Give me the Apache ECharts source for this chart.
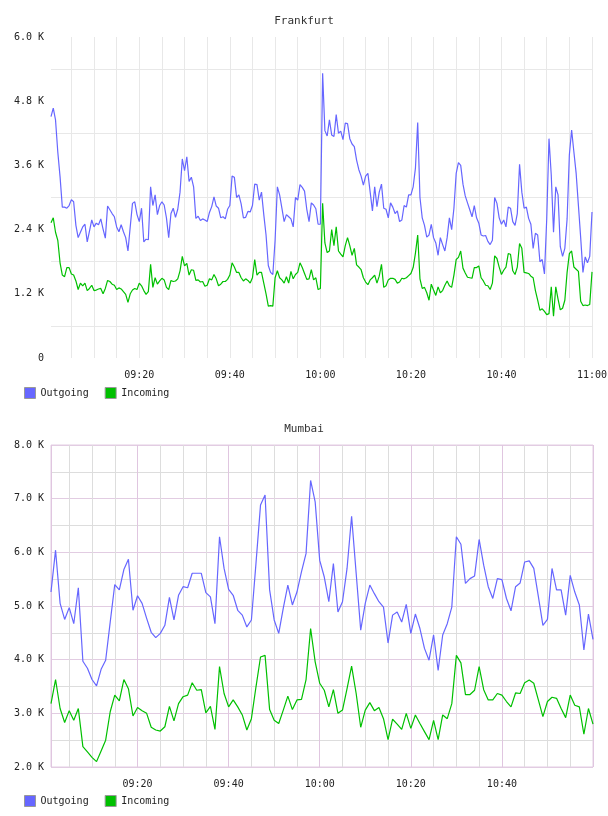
<!DOCTYPE html>
<html>
<head>
<meta charset="utf-8">
<script src="https://cdn.jsdelivr.net/npm/echarts@6/dist/echarts.min.js"></script>
<style>
  html, body { margin: 0; padding: 0; background: #fff; }
  #chart { width: 608px; height: 816px; }
</style>
</head>
<body>
<div id="chart"></div>
<script>
// Frankfurt: one sample every 30 s, 09:00:30 .. 11:00:00 (values in K)
const fraStart = [9, 0, 30];
const fraStepSec = 30;
const fraOutgoing = [
  4.51, 4.67, 4.45, 3.85, 3.39, 2.82, 2.82, 2.80, 2.85, 2.96,
  2.92, 2.48, 2.25, 2.35, 2.45, 2.50, 2.17, 2.37, 2.58, 2.45,
  2.52, 2.49, 2.60, 2.41, 2.24, 2.84, 2.77, 2.70, 2.64, 2.45,
  2.36, 2.49, 2.36, 2.25, 2.00, 2.45, 2.89, 2.92, 2.68, 2.55,
  2.80, 2.17, 2.22, 2.21, 3.20, 2.85, 3.05, 2.68, 2.85, 2.92,
  2.86, 2.62, 2.25, 2.70, 2.80, 2.63, 2.78, 3.10, 3.72, 3.50,
  3.76, 3.30, 3.38, 3.20, 2.61, 2.65, 2.57, 2.60, 2.58, 2.55,
  2.72, 2.83, 3.01, 2.84, 2.80, 2.62, 2.64, 2.60, 2.78, 2.85,
  3.40, 3.38, 3.00, 3.05, 2.88, 2.62, 2.63, 2.74, 2.73, 2.85,
  3.25, 3.24, 2.95, 3.10, 2.68, 2.30, 1.73, 1.60, 1.56, 2.20,
  3.20, 3.05, 2.80, 2.55, 2.68, 2.64, 2.60, 2.45, 3.00, 2.95,
  3.24, 3.19, 3.12, 2.78, 2.55, 2.90, 2.86, 2.79, 2.50, 2.50,
  5.32, 4.25, 4.15, 4.45, 4.17, 4.14, 4.55, 4.20, 4.24, 4.08,
  4.39, 4.38, 4.10, 4.00, 3.95, 3.70, 3.52, 3.40, 3.23, 3.40,
  3.45, 3.10, 2.75, 3.20, 2.83, 3.10, 3.25, 2.80, 2.78, 2.62,
  2.90, 2.82, 2.70, 2.75, 2.55, 2.58, 2.85, 2.82, 3.05, 3.05,
  3.20, 3.55, 4.40, 3.00, 2.62, 2.48, 2.26, 2.30, 2.50, 2.25,
  2.15, 1.92, 2.25, 2.12, 2.00, 2.25, 2.62, 2.40, 2.80, 3.45,
  3.65, 3.60, 3.25, 3.03, 2.90, 2.77, 2.64, 2.85, 2.62, 2.52,
  2.30, 2.28, 2.29, 2.18, 2.12, 2.20, 3.00, 2.89, 2.62, 2.50,
  2.58, 2.45, 2.82, 2.80, 2.55, 2.48, 2.70, 3.62, 3.10, 2.80,
  2.82, 2.61, 2.50, 2.05, 2.33, 2.30, 1.80, 1.84, 1.57, 2.60,
  4.10, 3.42, 2.35, 3.20, 3.05, 2.08, 1.90, 2.05, 2.60, 3.80,
  4.26, 3.85, 3.45, 2.85, 2.25, 1.60, 1.89, 1.78, 1.90, 2.73
];
const fraIncoming = [
  2.53, 2.62, 2.35, 2.20, 1.78, 1.55, 1.52, 1.69, 1.69, 1.57,
  1.55, 1.44, 1.28, 1.40, 1.35, 1.40, 1.26, 1.30, 1.36, 1.26,
  1.27, 1.29, 1.30, 1.20, 1.30, 1.45, 1.43, 1.38, 1.36, 1.28,
  1.31, 1.29, 1.24, 1.19, 1.04, 1.20, 1.27, 1.30, 1.28, 1.40,
  1.35, 1.26, 1.19, 1.24, 1.75, 1.32, 1.50, 1.38, 1.44, 1.49,
  1.46, 1.32, 1.28, 1.45, 1.43, 1.44, 1.48, 1.63, 1.90, 1.72,
  1.77, 1.55, 1.65, 1.64, 1.45, 1.46, 1.42, 1.43, 1.34, 1.36,
  1.48, 1.46, 1.56, 1.48, 1.35, 1.38, 1.43, 1.43, 1.47, 1.55,
  1.78, 1.70, 1.60, 1.60, 1.50, 1.44, 1.48, 1.45, 1.40, 1.50,
  1.84, 1.55, 1.60, 1.60, 1.40, 1.20, 0.97, 0.98, 0.97, 1.50,
  1.63, 1.50, 1.46, 1.40, 1.52, 1.40, 1.62, 1.48, 1.56, 1.60,
  1.78, 1.69, 1.58, 1.47, 1.48, 1.65, 1.46, 1.50, 1.28, 1.30,
  2.89, 2.15, 1.97, 2.00, 2.40, 2.10, 2.45, 2.00, 1.94, 1.89,
  2.10, 2.25, 2.10, 1.92, 2.05, 1.74, 1.70, 1.65, 1.50, 1.42,
  1.37, 1.46, 1.50, 1.55, 1.40, 1.53, 1.75, 1.32, 1.35, 1.46,
  1.49, 1.49, 1.47, 1.40, 1.42, 1.49, 1.48, 1.50, 1.54, 1.58,
  1.69, 1.96, 2.30, 1.48, 1.30, 1.32, 1.22, 1.08, 1.38, 1.27,
  1.17, 1.33, 1.22, 1.26, 1.36, 1.44, 1.35, 1.32, 1.55, 1.84,
  1.88, 2.00, 1.68, 1.59, 1.51, 1.50, 1.49, 1.69, 1.69, 1.72,
  1.50, 1.44, 1.36, 1.35, 1.28, 1.40, 1.91, 1.86, 1.70, 1.56,
  1.64, 1.70, 1.95, 1.94, 1.63, 1.56, 1.70, 2.14, 2.05, 1.60,
  1.59, 1.58, 1.53, 1.50, 1.26, 1.08, 0.89, 0.92, 0.87, 0.81,
  0.83, 1.33, 0.78, 1.33, 1.10, 0.90, 0.93, 1.08, 1.60, 1.95,
  2.00, 1.70, 1.66, 1.62, 1.06, 0.98, 0.99, 0.98, 1.00, 1.61
];

// Mumbai: one sample per minute, 09:01 .. 11:00 (values in K)
const mumStart = [9, 1, 0];
const mumStepSec = 60;
const mumOutgoing = [
  5.26, 6.04, 5.05, 4.75, 4.97, 4.67, 5.34, 3.97, 3.84, 3.63,
  3.51, 3.82, 3.99, 4.70, 5.40, 5.30, 5.68, 5.87, 4.92, 5.19,
  5.05, 4.77, 4.51, 4.41, 4.49, 4.64, 5.16, 4.74, 5.20, 5.36,
  5.34, 5.61, 5.61, 5.61, 5.25, 5.17, 4.67, 6.29, 5.70, 5.31,
  5.20, 4.92, 4.83, 4.61, 4.74, 5.79, 6.88, 7.07, 5.30, 4.74,
  4.49, 4.96, 5.39, 5.02, 5.26, 5.64, 5.98, 7.34, 6.94, 5.85,
  5.54, 5.08, 5.79, 4.89, 5.08, 5.70, 6.67, 5.61, 4.55, 5.05,
  5.39, 5.23, 5.08, 4.98, 4.31, 4.83, 4.89, 4.70, 5.03, 4.49,
  4.85, 4.58, 4.21, 3.99, 4.46, 3.80, 4.46, 4.67, 4.98, 6.29,
  6.15, 5.42, 5.51, 5.56, 6.24, 5.76, 5.36, 5.14, 5.51, 5.49,
  5.14, 4.91, 5.36, 5.43, 5.82, 5.84, 5.70, 5.18, 4.64, 4.75,
  5.70, 5.30, 5.30, 4.83, 5.57, 5.26, 5.02, 4.18, 4.85, 4.38
];
const mumIncoming = [
  3.18, 3.63, 3.09, 2.83, 3.05, 2.87, 3.09, 2.38, 2.28, 2.18,
  2.10, 2.30, 2.50, 3.03, 3.34, 3.23, 3.63, 3.46, 2.95, 3.11,
  3.05, 3.00, 2.74, 2.69, 2.67, 2.75, 3.13, 2.86, 3.18, 3.31,
  3.34, 3.57, 3.43, 3.44, 3.01, 3.13, 2.70, 3.87, 3.37, 3.12,
  3.25, 3.12, 2.97, 2.69, 2.90, 3.49, 4.05, 4.08, 3.07, 2.87,
  2.81, 3.06, 3.32, 3.07, 3.25, 3.26, 3.63, 4.58, 3.96, 3.56,
  3.43, 3.12, 3.44, 3.00, 3.06, 3.46, 3.88, 3.37, 2.74, 3.06,
  3.20, 3.05, 3.11, 2.90, 2.51, 2.89, 2.80, 2.70, 3.00, 2.72,
  2.97, 2.81, 2.66, 2.51, 2.87, 2.51, 2.97, 2.90, 3.18, 4.08,
  3.94, 3.35, 3.35, 3.43, 3.87, 3.44, 3.25, 3.25, 3.37, 3.34,
  3.22, 3.12, 3.38, 3.37, 3.57, 3.62, 3.56, 3.25, 2.94, 3.22,
  3.30, 3.28, 3.09, 2.92, 3.34, 3.15, 3.12, 2.61, 3.09, 2.80
];

const legendNames = ['Outgoing', 'Incoming'];
const BLUE = '#6666ff';
const GREEN = '#00c000';
const MIN = 60 * 1000;
const FONT = 'DejaVu Sans Mono';

function at(h, m, s) { return new Date(2024, 0, 1, h, m, s).getTime(); }

function toPoints(start, stepSec, vals) {
  const t0 = at(start[0], start[1], start[2]);
  return vals.map((v, i) => [t0 + i * stepSec * 1000, v]);
}

function pad(n) { return (n < 10 ? '0' : '') + n; }

// label only the 20 minute marks
function timeLabel(v) {
  const d = new Date(v);
  if (d.getSeconds() !== 0 || d.getMinutes() % 20 !== 0) return '';
  return pad(d.getHours()) + ':' + pad(d.getMinutes());
}

function kLabel(v) {
  return v === 0 ? '0' : v.toFixed(1) + ' K';
}

// two time axes per grid: 5 min grid lines, and 20 min lines + labels
function timeAxes(gridIndex, min, max, minorColor, majorColor, showMax) {
  return [
    {
      type: 'time', gridIndex: gridIndex, min: min, max: max, position: 'top',
      minInterval: 6 * MIN, maxInterval: 6 * MIN,
      axisLine: { show: false }, axisTick: { show: false }, axisLabel: { show: false },
      splitLine: { show: true, showMinLine: false, lineStyle: { color: minorColor, width: 1 } }
    },
    {
      type: 'time', gridIndex: gridIndex, min: min, max: max, position: 'bottom', z: 1,
      minInterval: 25 * MIN, maxInterval: 25 * MIN,
      axisLine: { show: false }, axisTick: { show: false },
      axisLabel: {
        formatter: timeLabel, showMinLabel: false, showMaxLabel: showMax,
        fontFamily: FONT, fontSize: 10, color: '#222', margin: 12
      },
      splitLine: { show: majorColor != null, lineStyle: { color: majorColor || '#fff', width: 1 } }
    }
  ];
}

function lineSeries(name, color, xIdx, yIdx, data) {
  return {
    type: 'line', name: name, xAxisIndex: xIdx, yAxisIndex: yIdx, data: data,
    showSymbol: false, symbol: 'none',
    lineStyle: { width: 1.2, color: color }, itemStyle: { color: color }
  };
}

function legendAt(top) {
  return {
    data: legendNames, left: 24, top: top, padding: 0,
    icon: 'rect', itemWidth: 11, itemHeight: 11, itemGap: 16,
    itemStyle: { borderColor: '#999', borderWidth: 1 },
    textStyle: { fontFamily: FONT, fontSize: 10, color: '#222' }
  };
}

const chart = echarts.init(document.getElementById('chart'));

chart.setOption({
  animation: false,
  backgroundColor: '#fff',
  title: [
    { text: 'Frankfurt', left: 'center', top: 16, padding: 0,
      textStyle: { fontFamily: FONT, fontSize: 11, fontWeight: 'normal', color: '#333' } },
    { text: 'Mumbai', left: 'center', top: 424, padding: 0,
      textStyle: { fontFamily: FONT, fontSize: 11, fontWeight: 'normal', color: '#333' } }
  ],
  legend: [legendAt(387), legendAt(795)],
  grid: [
    { left: 51, right: 16, top: 37, height: 321, outerBoundsMode: 'none' },
    { left: 51, right: 15, top: 445, height: 322, outerBoundsMode: 'none',
      show: true, borderColor: '#e2cce2', borderWidth: 1 }
  ],
  xAxis: [].concat(
    timeAxes(0, at(9, 0, 30), at(11, 0, 0), '#e8e8e8', null, true),
    timeAxes(1, at(9, 1, 0), at(11, 0, 0), '#dddddd', '#e0c6e0', false)
  ),
  yAxis: [
    {
      type: 'value', gridIndex: 0, min: 0, max: 6, interval: 1.2,
      axisLine: { show: false }, axisTick: { show: false },
      axisLabel: { formatter: kLabel, fontFamily: FONT, fontSize: 10, color: '#222', margin: 7 },
      splitLine: { show: false },
      minorTick: { show: false, splitNumber: 2 },
      minorSplitLine: { show: true, lineStyle: { color: '#e8e8e8' } }
    },
    {
      type: 'value', gridIndex: 1, min: 2, max: 8, interval: 1,
      axisLine: { show: false }, axisTick: { show: false },
      axisLabel: { formatter: kLabel, fontFamily: FONT, fontSize: 10, color: '#222', margin: 7 },
      splitLine: { show: true, lineStyle: { color: '#e2cce2' } },
      minorTick: { show: false, splitNumber: 2 },
      minorSplitLine: { show: true, lineStyle: { color: '#dddddd' } }
    }
  ],
  series: [
    lineSeries('Outgoing', BLUE, 1, 0, toPoints(fraStart, fraStepSec, fraOutgoing)),
    lineSeries('Incoming', GREEN, 1, 0, toPoints(fraStart, fraStepSec, fraIncoming)),
    lineSeries('Outgoing', BLUE, 3, 1, toPoints(mumStart, mumStepSec, mumOutgoing)),
    lineSeries('Incoming', GREEN, 3, 1, toPoints(mumStart, mumStepSec, mumIncoming))
  ]
});
</script>
</body>
</html>
